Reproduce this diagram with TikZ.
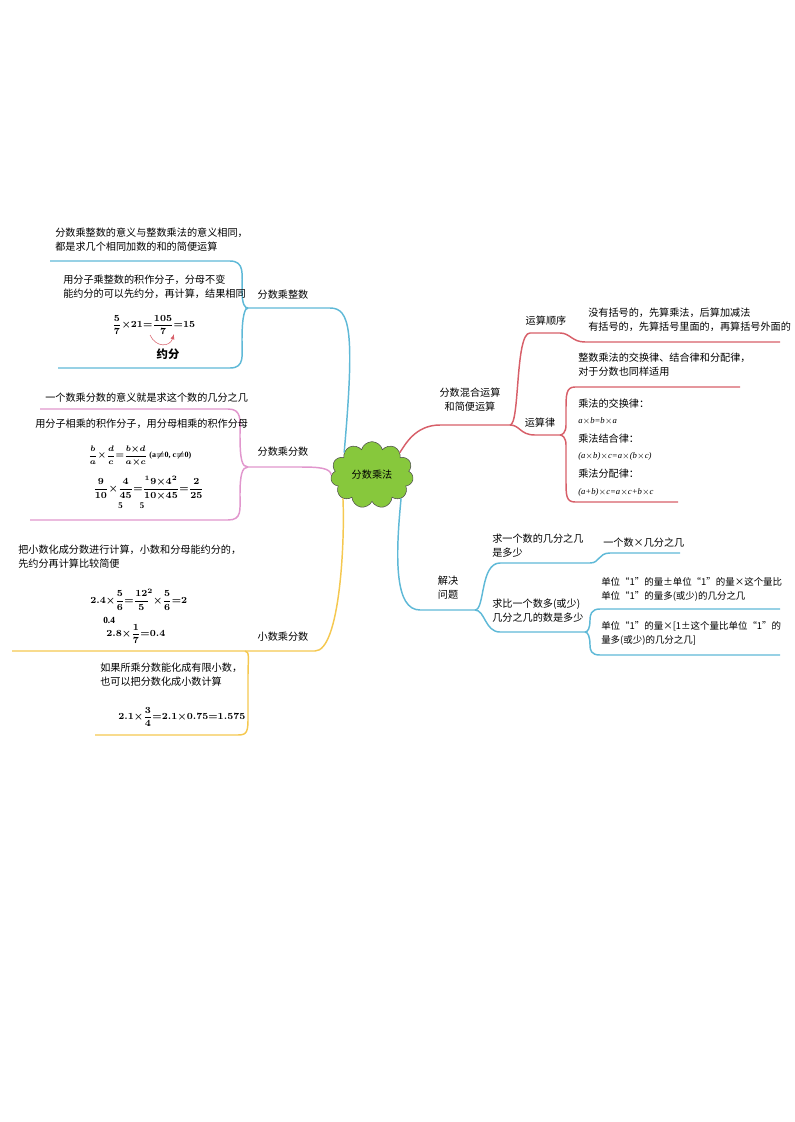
\documentclass[tikz,border=0pt]{standalone}
\usepackage{amsmath}
\usepackage{fontspec}
\setmainfont{Liberation Serif}
\newfontfamily\cjk{Noto Sans CJK SC}
\usetikzlibrary{shapes.symbols}
\definecolor{cb}{RGB}{95,185,215}
\definecolor{cp}{RGB}{225,150,205}
\definecolor{cr}{RGB}{215,95,105}
\definecolor{cy}{RGB}{245,200,80}
\definecolor{cg}{RGB}{135,200,60}
\tikzset{
 t/.style={anchor=west,inner sep=0pt,font=\cjk\fontsize{7.6}{10.5}\selectfont,align=left},
 lb/.style={inner sep=0pt,font=\cjk\fontsize{7.6}{10.5}\selectfont,align=center},
 f/.style={anchor=west,inner sep=0pt,font=\fontsize{7}{9}\selectfont\bfseries\boldmath},
 br/.style={line width=1.1pt},
}
\begin{document}
\begin{tikzpicture}[x=0.75pt,y=-0.75pt]
\useasboundingbox (0,0) rectangle (794,1122);
% centre
\node[cloud,cloud puffs=11,aspect=1.3,draw=black!70,fill=cg,minimum width=62,minimum height=50,inner sep=1pt,font=\cjk\fontsize{7.6}{9}\selectfont] (c) at (372,475) {分数乘法};
% blue top
\coordinate (b1) at (330,308);
\draw[cb,br] (c.north west) .. controls (355,330) and (350,308) .. (b1) -- (245,308);
\draw[cb,br] (50,261) -- (230,261) .. controls (245,261) and (242,275) .. (242,290) .. controls (242,305) and (245,308) .. (248,308);
\draw[cb,br] (58,368) -- (230,368) .. controls (245,368) and (242,355) .. (242,340) .. controls (242,315) and (245,308) .. (248,308);
\node[lb] (l1) at (283,295) {分数乘整数};
\node[t] (t1) at (55,240) {分数乘整数的意义与整数乘法的意义相同，\\都是求几个相同加数的和的简便运算};
\node[t] (t2) at (63,287) {用分子乘整数的积作分子，分母不变\\能约分的可以先约分，再计算，结果相同};
\node[f] (e1) at (112,325) {$\dfrac{5}{7}{\times}21{=}\dfrac{105}{7}{=}15$};
\node[lb,font=\cjk\fontsize{8.5}{10}\selectfont\bfseries] (y1) at (168,354) {约分};
\draw[cr,-latex] (150,335) .. controls (156,348) and (170,347) .. (174,334);
% pink
\draw[cp,br] (c.west) .. controls (330,468) and (320,467) .. (300,467) -- (248,467);
\draw[cp,br] (40,409) -- (228,409) .. controls (242,409) and (240,420) .. (240,435) .. controls (240,460) and (242,467) .. (248,467);
\draw[cp,br] (30,520) -- (228,520) .. controls (242,520) and (240,510) .. (240,495) .. controls (240,475) and (242,467) .. (248,467);
\node[lb] (l2) at (283,452) {分数乘分数};
\node[t] (t3) at (45,398) {一个数乘分数的意义就是求这个数的几分之几};
\node[t] (t4) at (35,424) {用分子相乘的积作分子，用分母相乘的积作分母};
\node[f,font=\fontsize{6}{8}\selectfont\bfseries\boldmath] (e2) at (88,456) {$\dfrac{b}{a}{\times}\dfrac{d}{c}{=}\dfrac{b{\times}d}{a{\times}c}$ (a$\neq$0, c$\neq$0)};
\node[f] (e3) at (93,488) {$\dfrac{9}{10}{\times}\dfrac{4}{45}{=}\dfrac{{}^1 9{\times}4^2}{10{\times}45}{=}\dfrac{2}{25}$};
\node[f,font=\fontsize{6.5}{8}\selectfont\bfseries] at (118,506) {5\hspace{13pt}5};
% yellow
\draw[cy,br] (c.south west) .. controls (345,540) and (340,651) .. (315,651) -- (12,651);
\draw[cy,br] (245,651) .. controls (250,651) and (248,660) .. (248,675) -- (248,720) .. controls (248,735) and (245,735) .. (235,735) -- (95,735);
\node[lb] (l3) at (283,637) {小数乘分数};
\node[t] (t5) at (18,557) {把小数化成分数进行计算，小数和分母能约分的，\\先约分再计算比较简便};
\node[f] (e4) at (90,600) {$2.4{\times}\dfrac{5}{6}{=}\dfrac{12}{5}^{\!2}{\times}\dfrac{5}{6}{=}2$};
\node[f] (e5) at (103,620) {0.4};
\node[f] (e6) at (106,634) {$2.8{\times}\dfrac{1}{7}{=}0.4$};
\node[t] (t6) at (100,675) {如果所乘分数能化成有限小数，\\也可以把分数化成小数计算};
\node[f] (e7) at (118,717) {$2.1{\times}\dfrac{3}{4}{=}2.1{\times}0.75{=}1.575$};
% red
\coordinate (r1) at (510,425);
\draw[cr,br] (c.north east) .. controls (405,445) and (415,425) .. (440,425) -- (r1);
\node[lb] (l4) at (470,400) {分数混合运算\\和简便运算};
\draw[cr,br] (r1) .. controls (520,425) and (515,333) .. (530,333) -- (560,333) .. controls (570,333) and (572,342) .. (585,342) -- (780,342);
\node[lb] (l5) at (546,321) {运算顺序};
\node[t] (t7) at (588,320) {没有括号的，先算乘法，后算加减法\\有括号的，先算括号里面的，再算括号外面的};
\draw[cr,br] (r1) .. controls (520,425) and (520,435) .. (535,435) -- (560,435);
\node[lb] (l6) at (540,423) {运算律};
\draw[cr,br] (740,387) -- (575,387) .. controls (566,387) and (566,395) .. (566,410) -- (566,425) .. controls (566,433) and (562,435) .. (560,435);
\draw[cr,br] (678,502) -- (575,502) .. controls (566,502) and (566,495) .. (566,480) -- (566,445) .. controls (566,437) and (562,435) .. (560,435);
\node[t] (t8) at (578,365) {整数乘法的交换律、结合律和分配律，\\对于分数也同样适用};
\node[t] (t9) at (578,404) {乘法的交换律：};
\node[f,font=\fontsize{6.5}{8}\selectfont\itshape] (m1) at (578,421) {a$\times$b=b$\times$a};
\node[t] (t10) at (578,439) {乘法结合律：};
\node[f,font=\fontsize{6.5}{8}\selectfont\itshape] (m2) at (578,456) {(a$\times$b)$\times$c=a$\times$(b$\times$c)};
\node[t] (t11) at (578,474) {乘法分配律：};
\node[f,font=\fontsize{6.5}{8}\selectfont\itshape] (m3) at (578,492) {(a+b)$\times$c=a$\times$c+b$\times$c};
% blue bottom
\coordinate (s1) at (475,610);
\draw[cb,br] (c.south east) .. controls (395,560) and (395,610) .. (420,610) -- (s1);
\node[lb] (l7) at (448,588) {解决\\问题};
\draw[cb,br] (s1) .. controls (485,610) and (480,563) .. (500,563) -- (590,563) .. controls (600,563) and (598,553) .. (610,553) -- (680,553);
\node[t] (t12) at (492,546) {求一个数的几分之几\\是多少};
\node[t] (t13) at (603,543) {一个数×几分之几};
\draw[cb,br] (s1) .. controls (485,610) and (485,632) .. (500,632) -- (585,632);
\node[t] (t14) at (492,611) {求比一个数多(或少)\\几分之几的数是多少};
\draw[cb,br] (780,609) -- (600,609) .. controls (591,609) and (590,615) .. (590,620) .. controls (590,628) and (588,632) .. (585,632);
\draw[cb,br] (780,655) -- (600,655) .. controls (591,655) and (590,650) .. (590,645) .. controls (590,637) and (588,632) .. (585,632);
\node[t,font=\cjk\fontsize{7.1}{10.5}\selectfont] (t15) at (601,589) {单位“1”的量±单位“1”的量×这个量比\\单位“1”的量多(或少)的几分之几};
\node[t,font=\cjk\fontsize{7.1}{10.5}\selectfont] (t16) at (601,633) {单位“1”的量×[1±这个量比单位“1”的\\量多(或少)的几分之几]};
\end{tikzpicture}
\end{document}
